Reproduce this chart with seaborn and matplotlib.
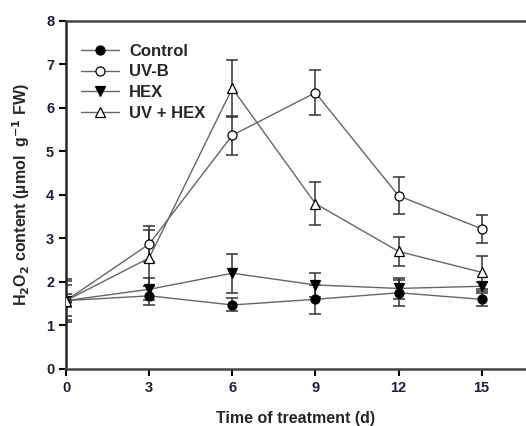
import pandas as pd
import matplotlib.pyplot as plt
import seaborn as sns

# Data (days of treatment, mean and error)
days = [0, 3, 6, 9, 12, 15]
series_names = ['Control', 'UV-B', 'HEX', 'UV + HEX']

control = [1.57, 1.68, 1.47, 1.60, 1.75, 1.60]
control_err = [0.35, 0.22, 0.15, 0.33, 0.30, 0.15]

uvb = [1.57, 2.87, 5.37, 6.35, 3.98, 3.22]
uvb_err = [0.50, 0.42, 0.45, 0.52, 0.42, 0.32]

hex_ = [1.57, 1.83, 2.20, 1.93, 1.85, 1.90]
hex_err = [0.45, 0.25, 0.45, 0.27, 0.25, 0.10]

uvhex = [1.57, 2.55, 6.45, 3.80, 2.70, 2.22]
uvhex_err = [0.15, 0.65, 0.65, 0.50, 0.33, 0.38]

means = [control, uvb, hex_, uvhex]
errs = [control_err, uvb_err, hex_err, uvhex_err]

rows = []
for name, m, e in zip(series_names, means, errs):
    for d, v, s in zip(days, m, e):
        rows.append({'day': d, 'value': v, 'err': s, 'group': name})
df = pd.DataFrame(rows)

sns.set_style('ticks')
plt.rcParams['font.family'] = ['Liberation Sans', 'DejaVu Sans']
plt.rcParams['font.weight'] = 'bold'

fig = plt.figure(figsize=(5.26, 4.26), dpi=100)
ax = fig.add_axes([0.1255, 0.134, 0.8745, 0.817])

markers = {'Control': 'o', 'UV-B': 'o', 'HEX': 'v', 'UV + HEX': '^'}
faces = {'Control': 'black', 'UV-B': 'white', 'HEX': 'black', 'UV + HEX': 'white'}
line_col = '#666666'

# error bars first, then the lines and markers
for name in series_names:
    sub = df[df['group'] == name]
    ax.errorbar(sub['day'], sub['value'], yerr=sub['err'], fmt='none',
                ecolor='#333333', elinewidth=1.1, capsize=4, capthick=1.1, zorder=2)

for name in series_names:
    sub = df[df['group'] == name]
    sns.lineplot(data=sub, x='day', y='value', ax=ax, color=line_col, lw=1.0,
                 marker=markers[name], markersize=6.5, markerfacecolor=faces[name],
                 markeredgecolor='black', markeredgewidth=0.9, label=name, zorder=3)

ax.set_xlim(0, 16.6)
ax.set_ylim(0, 8)
ax.set_xticks(days)
ax.set_yticks(range(0, 9))
ax.tick_params(direction='out', length=5, width=1.5, labelsize=10.5, colors='black')
for lab in ax.get_xticklabels() + ax.get_yticklabels():
    lab.set_fontweight('bold')
    lab.set_color('#1f1f33')

for side in ['left', 'bottom']:
    ax.spines[side].set_linewidth(1.8)
ax.spines['top'].set_linewidth(1.8)
ax.spines['top'].set_color('#444444')
ax.spines['bottom'].set_color('#444444')
ax.spines['right'].set_visible(False)

ax.set_xlabel('Time of treatment (d)', fontsize=11.5, fontweight='bold', labelpad=12)
ax.set_ylabel(r'H$_\mathbf{2}$O$_\mathbf{2}$ content (µmol  g$^\mathbf{-1}$ FW)',
              fontsize=11.5, fontweight='bold', labelpad=10)

leg = ax.legend(loc='upper left', bbox_to_anchor=(0.0, 0.978), frameon=False,
                fontsize=12, handlelength=2.3, handletextpad=0.6, labelspacing=0.35)
for t in leg.get_texts():
    t.set_fontweight('bold')

fig.savefig('out.png', dpi=100)
